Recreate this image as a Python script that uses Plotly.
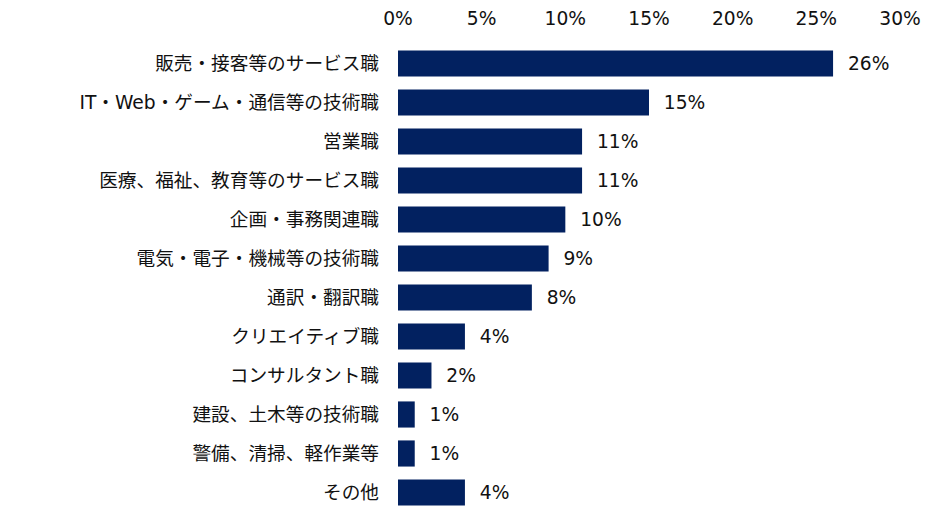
import plotly.graph_objects as go

categories = ["販売・接客等のサービス職", "IT・Web・ゲーム・通信等の技術職", "営業職",
              "医療、福祉、教育等のサービス職", "企画・事務関連職", "電気・電子・機械等の技術職",
              "通訳・翻訳職", "クリエイティブ職", "コンサルタント職", "建設、土木等の技術職",
              "警備、清掃、軽作業等", "その他"]
values = [26, 15, 11, 11, 10, 9, 8, 4, 2, 1, 1, 4]
tick_vals = [0, 5, 10, 15, 20, 25, 30]
tick_text = ["0%", "5%", "10%", "15%", "20%", "25%", "30%"]

num_font = "DejaVu Sans, Noto Sans CJK JP"
jp_font = "DejaVu Sans, Noto Sans CJK JP"
fs = 18.67

fig = go.Figure(go.Bar(
    x=values, y=categories, orientation="h",
    marker=dict(color="#022160", line=dict(width=0)),
    width=0.67,
    text=["  " + f"{v}%" for v in values],
    textposition="outside",
    textfont=dict(size=fs, color="#111111", family=num_font),
    cliponaxis=False,
))

fig.update_layout(
    width=934, height=520,
    margin=dict(l=390, r=42, t=36, b=16),
    plot_bgcolor="white", paper_bgcolor="white",
    showlegend=False,
    font=dict(family=jp_font, size=fs, color="#111111"),
    xaxis=dict(side="top", range=[0, 30], tickvals=tick_vals, ticktext=tick_text,
               showgrid=False, zeroline=False, showline=False, ticks="",
               tickfont=dict(size=fs, family=num_font), ticklabelstandoff=14,
               automargin=False),
    yaxis=dict(autorange="reversed", showgrid=False, zeroline=False, showline=False,
               ticks="", tickfont=dict(size=fs, family=jp_font), ticklabelstandoff=18,
               automargin=False),
)

fig.write_html("out.html")
